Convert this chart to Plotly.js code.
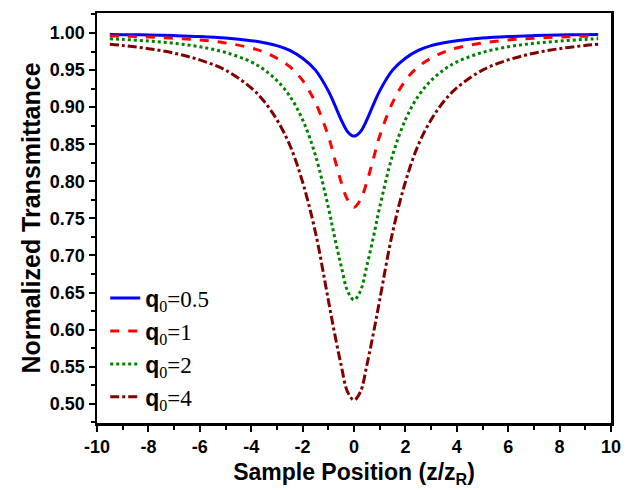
<!DOCTYPE html>
<html>
<head>
<meta charset="utf-8">
<script src="https://cdn.plot.ly/plotly-3.0.1.min.js"></script>
<style>html,body{margin:0;padding:0;background:#fff;}#chart{width:630px;height:490px;}</style>
</head>
<body>
<div id="chart"></div>
<script>
// Sample position (z/zR)
const positions = [-9.5,-9,-8,-7,-6,-5,-4,-3.5,-3,-2.5,-2,-1.5,-1,-0.75,-0.5,-0.25,0,0.25,0.5,0.75,1,1.5,2,2.5,3,3.5,4,5,6,7,8,9,9.5];
// Normalized transmittance for each q0
const tQ05 = [0.998,0.9978,0.9973,0.9965,0.9953,0.9933,0.9897,0.987,0.983,0.9765,0.966,0.950,0.922,0.903,0.883,0.867,0.861,0.867,0.883,0.903,0.922,0.950,0.966,0.9765,0.983,0.987,0.9897,0.9933,0.9953,0.9965,0.9973,0.9978,0.998];
const tQ1 = [0.9961,0.9957,0.9946,0.993,0.9906,0.9866,0.9798,0.9742,0.966,0.9546,0.936,0.906,0.861,0.830,0.799,0.775,0.765,0.775,0.799,0.830,0.861,0.906,0.936,0.9546,0.966,0.9742,0.9798,0.9866,0.9906,0.993,0.9946,0.9957,0.9961];
const tQ2 = [0.9923,0.9914,0.9892,0.9861,0.9814,0.9738,0.961,0.9506,0.936,0.915,0.883,0.835,0.765,0.724,0.686,0.652,0.640,0.652,0.686,0.724,0.765,0.835,0.883,0.915,0.936,0.9506,0.961,0.9738,0.9814,0.9861,0.9892,0.9914,0.9923];
const tQ4 = [0.9849,0.9832,0.9789,0.9728,0.9637,0.950,0.926,0.9079,0.883,0.849,0.799,0.731,0.640,0.594,0.552,0.516,0.505,0.516,0.552,0.594,0.640,0.731,0.799,0.849,0.883,0.9079,0.926,0.950,0.9637,0.9728,0.9789,0.9832,0.9849];
const q0Labels = ['0.5','1','2','4'];
const xTickVals = [-10,-8,-6,-4,-2,0,2,4,6,8,10];
const xTickText = ['-10','-8','-6','-4','-2','0','2','4','6','8','10'];

const styles = [
  {color:'#0000ff', dash:'solid'},
  {color:'#ff0000', dash:'dash'},
  {color:'#008000', dash:'dot'},
  {color:'#800000', dash:'dashdot'}
];
const ys = [tQ05, tQ1, tQ2, tQ4];
const traces = ys.map((y,i)=>({
  x: positions, y: y, type:'scatter', mode:'lines',
  name: '<span style="font-family:Liberation Sans;font-weight:bold">q</span><sub>0</sub>=' + q0Labels[i],
  line:{color:styles[i].color, dash:styles[i].dash, width:3, shape:'spline'}
}));

const sans = 'Liberation Sans, Arial, sans-serif';
const axisCommon = {
  showgrid:false, zeroline:false, showline:true, linecolor:'#000', linewidth:2.5,
  mirror:true, ticks:'outside', ticklen:6, tickwidth:2, tickcolor:'#000',
  tickfont:{family:sans, size:18, color:'#000', weight:'bold'}
};

const layout = {
  width:630, height:490,
  margin:{l:97, r:19, t:13, b:67},
  paper_bgcolor:'#fff', plot_bgcolor:'#fff',
  showlegend:true,
  legend:{x:0.016, y:0.357, xanchor:'left', yanchor:'top', bgcolor:'rgba(0,0,0,0)',
    font:{family:'Liberation Serif, Times New Roman, serif', size:23, color:'#000'}},
  xaxis: Object.assign({}, axisCommon, {
    range:[-10,10], tickmode:'array', tickvals:xTickVals, ticktext:xTickText,
    minor:{dtick:1, tick0:-10, ticks:'outside', ticklen:4, tickwidth:2, tickcolor:'#000'},
    title:{text:'Sample Position (z/z<sub>R</sub>)', standoff:8,
      font:{family:sans, size:23, color:'#000', weight:'bold'}}
  }),
  yaxis: Object.assign({}, axisCommon, {
    range:[0.474,1.027], dtick:0.05, tick0:0.5, tickformat:'.2f',
    minor:{dtick:0.025, ticks:'outside', ticklen:4, tickwidth:2, tickcolor:'#000'},
    title:{text:'Normalized Transmittance', standoff:2,
      font:{family:sans, size:25, color:'#000', weight:'bold'}}
  })
};

Plotly.newPlot('chart', traces, layout, {displayModeBar:false, staticPlot:true});
</script>
</body>
</html>
